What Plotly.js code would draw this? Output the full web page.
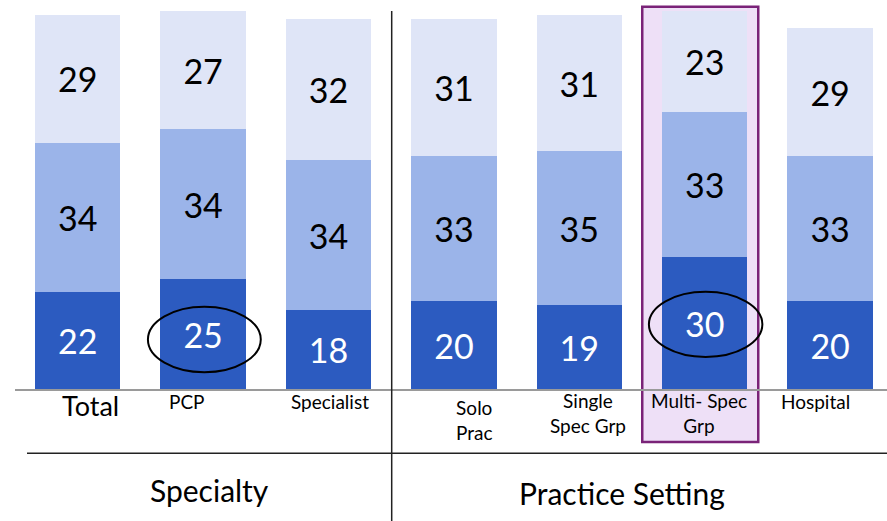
<!DOCTYPE html>
<html>
<head>
<meta charset="utf-8">
<script src="https://cdn.plot.ly/plotly-3.0.1.min.js"></script>
<style>html,body{margin:0;padding:0;background:#fff;}#chart{width:887px;height:521px;}</style>
</head>
<body>
<div id="chart"></div>
<script>
// ---- data ----
const categories = ["Total", "PCP", "Specialist", "Solo<br>Prac", "Single<br>Spec Grp", "Multi- Spec<br>Grp", "Hospital"];
const bottomVals = [22, 25, 18, 20, 19, 30, 20];
const middleVals = [34, 34, 34, 33, 35, 33, 33];
const topVals    = [29, 27, 32, 31, 31, 23, 29];
const groupLabels = ["Specialty", "Practice Setting"];

// ---- styles / positions (not data) ----
const FONT = "Lato, 'Open Sans', sans-serif";
const labelShift = [13, -16, 1, 21, 9, -6, -15];
const labelYpx   = [405, 401, 401, 420, 413.5, 413.5, 401];
const labelSize  = [27, 19, 19, 19, 19, 19, 19];
const PX_BASE = 389, PLOT_H = 389;
const toPaperY = py => (PX_BASE - py) / PLOT_H;
const xIdx = categories.map((_, i) => i);

function barTrace(vals, color, textColor) {
  return {
    type: 'bar', x: xIdx, y: vals,
    marker: {color: color, line: {width: 0}},
    texttemplate: '%{y}', textposition: 'inside', insidetextanchor: 'middle',
    textangle: 0, constraintext: 'none',
    textfont: {family: FONT, size: 34, color: textColor},
    hoverinfo: 'skip', showlegend: false
  };
}

const traces = [
  barTrace(bottomVals, '#2C5BC0', '#ffffff'),
  barTrace(middleVals, '#9BB4E9', '#000000'),
  barTrace(topVals,    '#DFE5F7', '#000000')
];

const annotations = categories.map((c, i) => ({
  x: i, xref: 'x', y: toPaperY(labelYpx[i]), yref: 'paper',
  xanchor: 'center', yanchor: 'middle', xshift: labelShift[i],
  text: c, showarrow: false,
  font: {family: FONT, size: labelSize[i], color: '#000'}
}));
annotations.push({
  x: (209 - 15) / 872, xref: 'paper', y: toPaperY(490), yref: 'paper',
  xanchor: 'center', yanchor: 'middle', text: groupLabels[0], showarrow: false,
  font: {family: FONT, size: 30, color: '#000'}
});
annotations.push({
  x: (621.7 - 15) / 872, xref: 'paper', y: toPaperY(493), yref: 'paper',
  xanchor: 'center', yanchor: 'middle', text: groupLabels[1], showarrow: false,
  font: {family: FONT, size: 30, color: '#000'}
});

const shapes = [
  // highlight box for Multi-Spec Grp (category index 5)
  {type: 'rect', xref: 'x', yref: 'paper', x0: 4.502, x1: 5.427,
   y0: toPaperY(442), y1: toPaperY(6.7), layer: 'below',
   fillcolor: '#EEE0F7', line: {color: '#7A2378', width: 2.5}},
  // ellipses
  {type: 'circle', xref: 'x', yref: 'y', x0: 0.56, x1: 1.46, y0: 3.8, y1: 18.7,
   line: {color: '#000', width: 2}, layer: 'above'},
  {type: 'circle', xref: 'x', yref: 'y', x0: 4.555, x1: 5.46, y0: 7.3, y1: 22.1,
   line: {color: '#000', width: 2}, layer: 'above'},
  // vertical divider
  {type: 'line', xref: 'x', yref: 'paper', x0: 2.504, x1: 2.504,
   y0: toPaperY(521), y1: toPaperY(11), line: {color: '#222', width: 1.5}},
  // horizontal divider
  {type: 'line', xref: 'paper', yref: 'paper', x0: (27 - 15) / 872, x1: 1,
   y0: toPaperY(453.3), y1: toPaperY(453.3), line: {color: '#222', width: 1.5}}
];

const layout = {
  width: 887, height: 521,
  margin: {l: 15, r: 0, t: 0, b: 132, pad: 0},
  barmode: 'stack', bargap: 0.32,
  paper_bgcolor: '#fff', plot_bgcolor: 'rgba(0,0,0,0)',
  xaxis: {range: [-0.5, -0.5 + 872 / 125.4], showgrid: false, zeroline: false,
          showticklabels: false, ticks: '', showline: true, linecolor: '#9a9a9a', linewidth: 1.5,
          fixedrange: true},
  yaxis: {range: [0, 389 / 4.4], showgrid: false, zeroline: false, showticklabels: false,
          ticks: '', showline: false, fixedrange: true},
  annotations: annotations,
  shapes: shapes,
  showlegend: false,
  font: {family: FONT}
};

Plotly.newPlot('chart', traces, layout, {displayModeBar: false, staticPlot: true});
</script>
</body>
</html>
